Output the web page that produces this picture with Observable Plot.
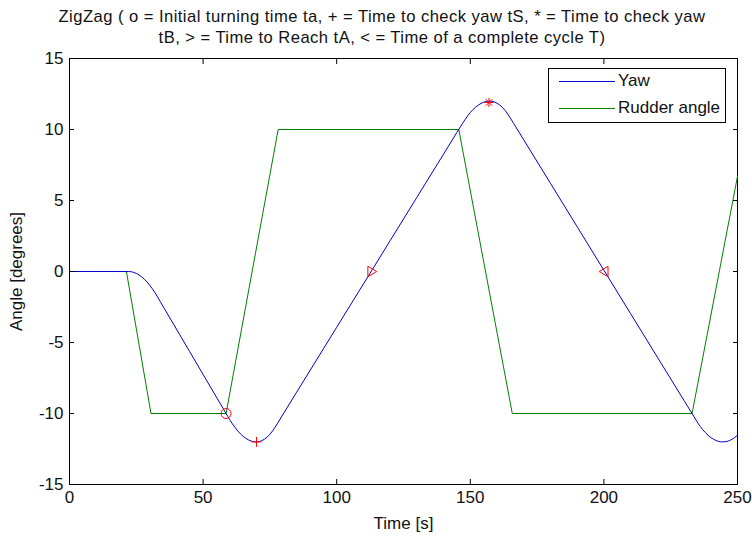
<!DOCTYPE html>
<html>
<head>
<meta charset="utf-8">
<script src="https://cdn.jsdelivr.net/npm/d3@7"></script>
<script src="https://cdn.jsdelivr.net/npm/@observablehq/plot@0.6"></script>
<style>
  html, body { margin: 0; padding: 0; background: #fff; }
  #wrap { position: relative; width: 752px; height: 539px; overflow: hidden; font-family: "Liberation Sans", Arial, sans-serif; }
  #title { position: absolute; left: 0; top: 6px; width: 764px; text-align: center; font-size: 16.6px; letter-spacing: 0.45px; line-height: 21px; color: #111; }
  #chart { position: absolute; left: 0; top: 50px; }
  #legend { position: absolute; left: 548px; top: 68px; width: 178px; height: 55px; border: 1px solid #000; background: #fff; box-sizing: border-box; }
  .lg { position: absolute; left: 0; height: 20px; font-size: 17px; color: #111; }
  .lg .sw { position: absolute; left: 10px; top: 10px; width: 56px; height: 0; border-top: 1px solid; }
  .lg .tx { position: absolute; left: 69px; top: 0; white-space: nowrap; line-height: 20px; }
</style>
</head>
<body>
<div id="wrap">
  <div id="title"></div>
  <div id="chart"></div>
  <div id="legend"></div>
</div>
<script>
// ---- data ----
const titleLines = [
  "ZigZag ( o = Initial turning time ta, + = Time to check yaw tS, * = Time to check yaw",
  "tB, > = Time to Reach tA, < = Time of a complete cycle T)"
];
const xLabel = "Time [s]";
const yLabel = "Angle [degrees]";
const xTicks = [0, 50, 100, 150, 200, 250];
const yTicks = [-15, -10, -5, 0, 5, 10, 15];
const seriesNames = ["Yaw", "Rudder angle"];
const seriesColors = ["#0000c8", "#008000"];

const yawT   = [0, 22, 24, 26, 28, 30, 32, 34, 36, 40, 45, 50, 55, 58.6, 60, 62, 64, 66, 68, 70, 72, 74, 76, 78, 80, 85, 90, 95, 100, 105, 110, 113, 120, 130, 140, 145, 147, 149, 151, 153, 155, 157, 159, 161, 163, 165, 167, 170, 180, 190, 200, 210, 220, 230, 233, 236, 238, 240, 242, 244, 246, 248, 250];
const yawDeg = [0, 0, -0.06, -0.24, -0.54, -0.96, -1.5, -2.13, -2.77, -4.05, -5.65, -7.25, -8.85, -10.0, -10.45, -11.0, -11.44, -11.75, -11.94, -12.0, -11.91, -11.66, -11.23, -10.65, -10.03, -8.5, -6.98, -5.45, -3.93, -2.4, -0.88, 0.03, 2.17, 5.22, 8.27, 9.8, 10.4, 10.96, 11.4, 11.72, 11.92, 12.0, 11.94, 11.72, 11.35, 10.8, 10.19, 9.27, 6.21, 3.15, 0.09, -2.97, -6.03, -9.09, -10.0, -10.9, -11.35, -11.69, -11.9, -12.0, -11.97, -11.81, -11.54];
const rudderT   = [0, 21.3, 30.5, 58.6, 78.1, 145.7, 165.7, 233.0, 250];
const rudderDeg = [0, 0, -10, -10, 10, 10, -10, -10, 6.7];

const markerT   = [58.6, 70.0, 157.0, 112.9, 200.3];
const markerDeg = [-10.0, -12.0, 11.9, 0.0, 0.0];
const markerSym = ["o", "+", "*", ">", "<"];

// ---- build ----
document.getElementById("title").innerHTML = titleLines.map(s => `<div>${s.replace(/</g,"&lt;").replace(/>/g,"&gt;")}</div>`).join("");

const yaw = yawT.map((t, i) => ({t, v: yawDeg[i]}));
const rudder = rudderT.map((t, i) => ({t, v: rudderDeg[i]}));
const markers = markerT.map((t, i) => ({t, v: markerDeg[i], s: markerSym[i]}));

const triRight = { draw(ctx, size) { const r = Math.sqrt(size / Math.PI); ctx.moveTo(r, 0); ctx.lineTo(-r * 0.6, -r * 0.95); ctx.lineTo(-r * 0.6, r * 0.95); ctx.closePath(); } };
const triLeft  = { draw(ctx, size) { const r = Math.sqrt(size / Math.PI); ctx.moveTo(-r, 0); ctx.lineTo(r * 0.6, -r * 0.95); ctx.lineTo(r * 0.6, r * 0.95); ctx.closePath(); } };
const plusSym  = { draw(ctx, size) { const r = Math.sqrt(size / Math.PI); ctx.moveTo(-r, 0); ctx.lineTo(r, 0); ctx.moveTo(0, -r); ctx.lineTo(0, r); } };
const starSym  = { draw(ctx, size) { const r = Math.sqrt(size / Math.PI); ctx.moveTo(-r, 0); ctx.lineTo(r, 0); ctx.moveTo(0, -r); ctx.lineTo(0, r);
  const q = r * 0.72; ctx.moveTo(-q, -q); ctx.lineTo(q, q); ctx.moveTo(-q, q); ctx.lineTo(q, -q); } };
const symMap = {"o": "circle", "+": plusSym, "*": starSym, ">": triRight, "<": triLeft};
const rMap = {"o": 5, "+": 5, "*": 4.5, ">": 5.5, "<": 5.5};

const tickFont = 17;
const markerMarks = markerSym.map(s => Plot.dot(markers.filter(d => d.s === s), {
  x: "t", y: "v", symbol: symMap[s], r: rMap[s], stroke: "#ff0000", fill: "none", strokeWidth: 1
}));

const plot = Plot.plot({
  width: 752,
  height: 489,
  marginTop: 8,
  marginBottom: 55,
  marginLeft: 69,
  marginRight: 15,
  style: { fontFamily: '"Liberation Sans", Arial, sans-serif', fontSize: tickFont + "px", color: "#111", background: "white" },
  x: { domain: [0, 250] },
  y: { domain: [-15, 15] },
  marks: [
    Plot.frame({ stroke: "#000", strokeWidth: 1 }),
    Plot.line(rudder, { x: "t", y: "v", stroke: seriesColors[1], strokeWidth: 1 }),
    Plot.line(yaw, { x: "t", y: "v", stroke: seriesColors[0], strokeWidth: 1, curve: "monotone-x" }),
    ...markerMarks,
    // inward tick marks on all four sides
    Plot.axisX(xTicks, { anchor: "bottom", tickSize: -5, tickFormat: () => "", label: null, stroke: "#000" }),
    Plot.axisX(xTicks, { anchor: "top", tickSize: -5, tickFormat: () => "", label: null, stroke: "#000" }),
    Plot.axisY(yTicks, { anchor: "left", tickSize: -5, tickFormat: () => "", label: null, stroke: "#000" }),
    Plot.axisY(yTicks, { anchor: "right", tickSize: -5, tickFormat: () => "", label: null, stroke: "#000" }),
    // tick labels and axis titles
    Plot.axisX(xTicks, { anchor: "bottom", tickSize: 0, tickPadding: 6, tickFormat: d => String(d), label: xLabel, labelAnchor: "center", labelArrow: "none", labelOffset: 44, fontSize: tickFont }),
    Plot.axisY(yTicks, { anchor: "left", tickSize: 0, tickPadding: 6, tickFormat: d => String(d), label: yLabel, labelAnchor: "center", labelArrow: "none", labelOffset: 60, fontSize: tickFont })
  ]
});
document.getElementById("chart").appendChild(plot);

// legend
const lg = document.getElementById("legend");
seriesNames.forEach((name, i) => {
  const row = document.createElement("div");
  row.className = "lg";
  row.style.top = (2 + i * 27) + "px";
  row.innerHTML = `<div class="sw" style="border-color:${seriesColors[i]}"></div><div class="tx">${name}</div>`;
  lg.appendChild(row);
});
</script>
</body>
</html>
